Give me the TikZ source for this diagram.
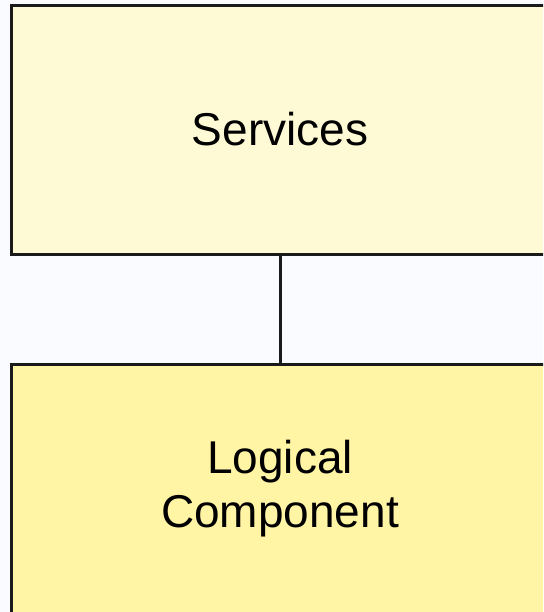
\documentclass[tikz,border=0pt]{standalone}
\usepackage{fontspec}
\setmainfont{Liberation Sans}
\definecolor{bgblue}{HTML}{F9FBFF}
\definecolor{servfill}{HTML}{FFFAD6}
\definecolor{compfill}{HTML}{FFF5A4}
\definecolor{edgegray}{HTML}{1A1A1A}
\tikzset{
  layerbox/.style={draw=edgegray,line width=1.5pt,minimum width=269pt,minimum height=124.5pt,
    font=\fontsize{23}{27}\selectfont,align=center,inner sep=0pt},
}
\begin{document}
\begin{tikzpicture}[x=0.5pt,y=-0.5pt]
  %canvas
  \fill[bgblue] (0,0) rectangle (543,612);
  \useasboundingbox (0,0) rectangle (543,612);
  \clip (0,0) rectangle (543,612);

  %the two layers
  \node[layerbox,fill=servfill] (services) at (280,129.5) {Services};
  \node[layerbox,fill=compfill] (logcomp) at (280,489) {Logical\\Component};

  %link
  \draw[edgegray,line width=1.5pt] (services) -- (logcomp);
\end{tikzpicture}
\end{document}
